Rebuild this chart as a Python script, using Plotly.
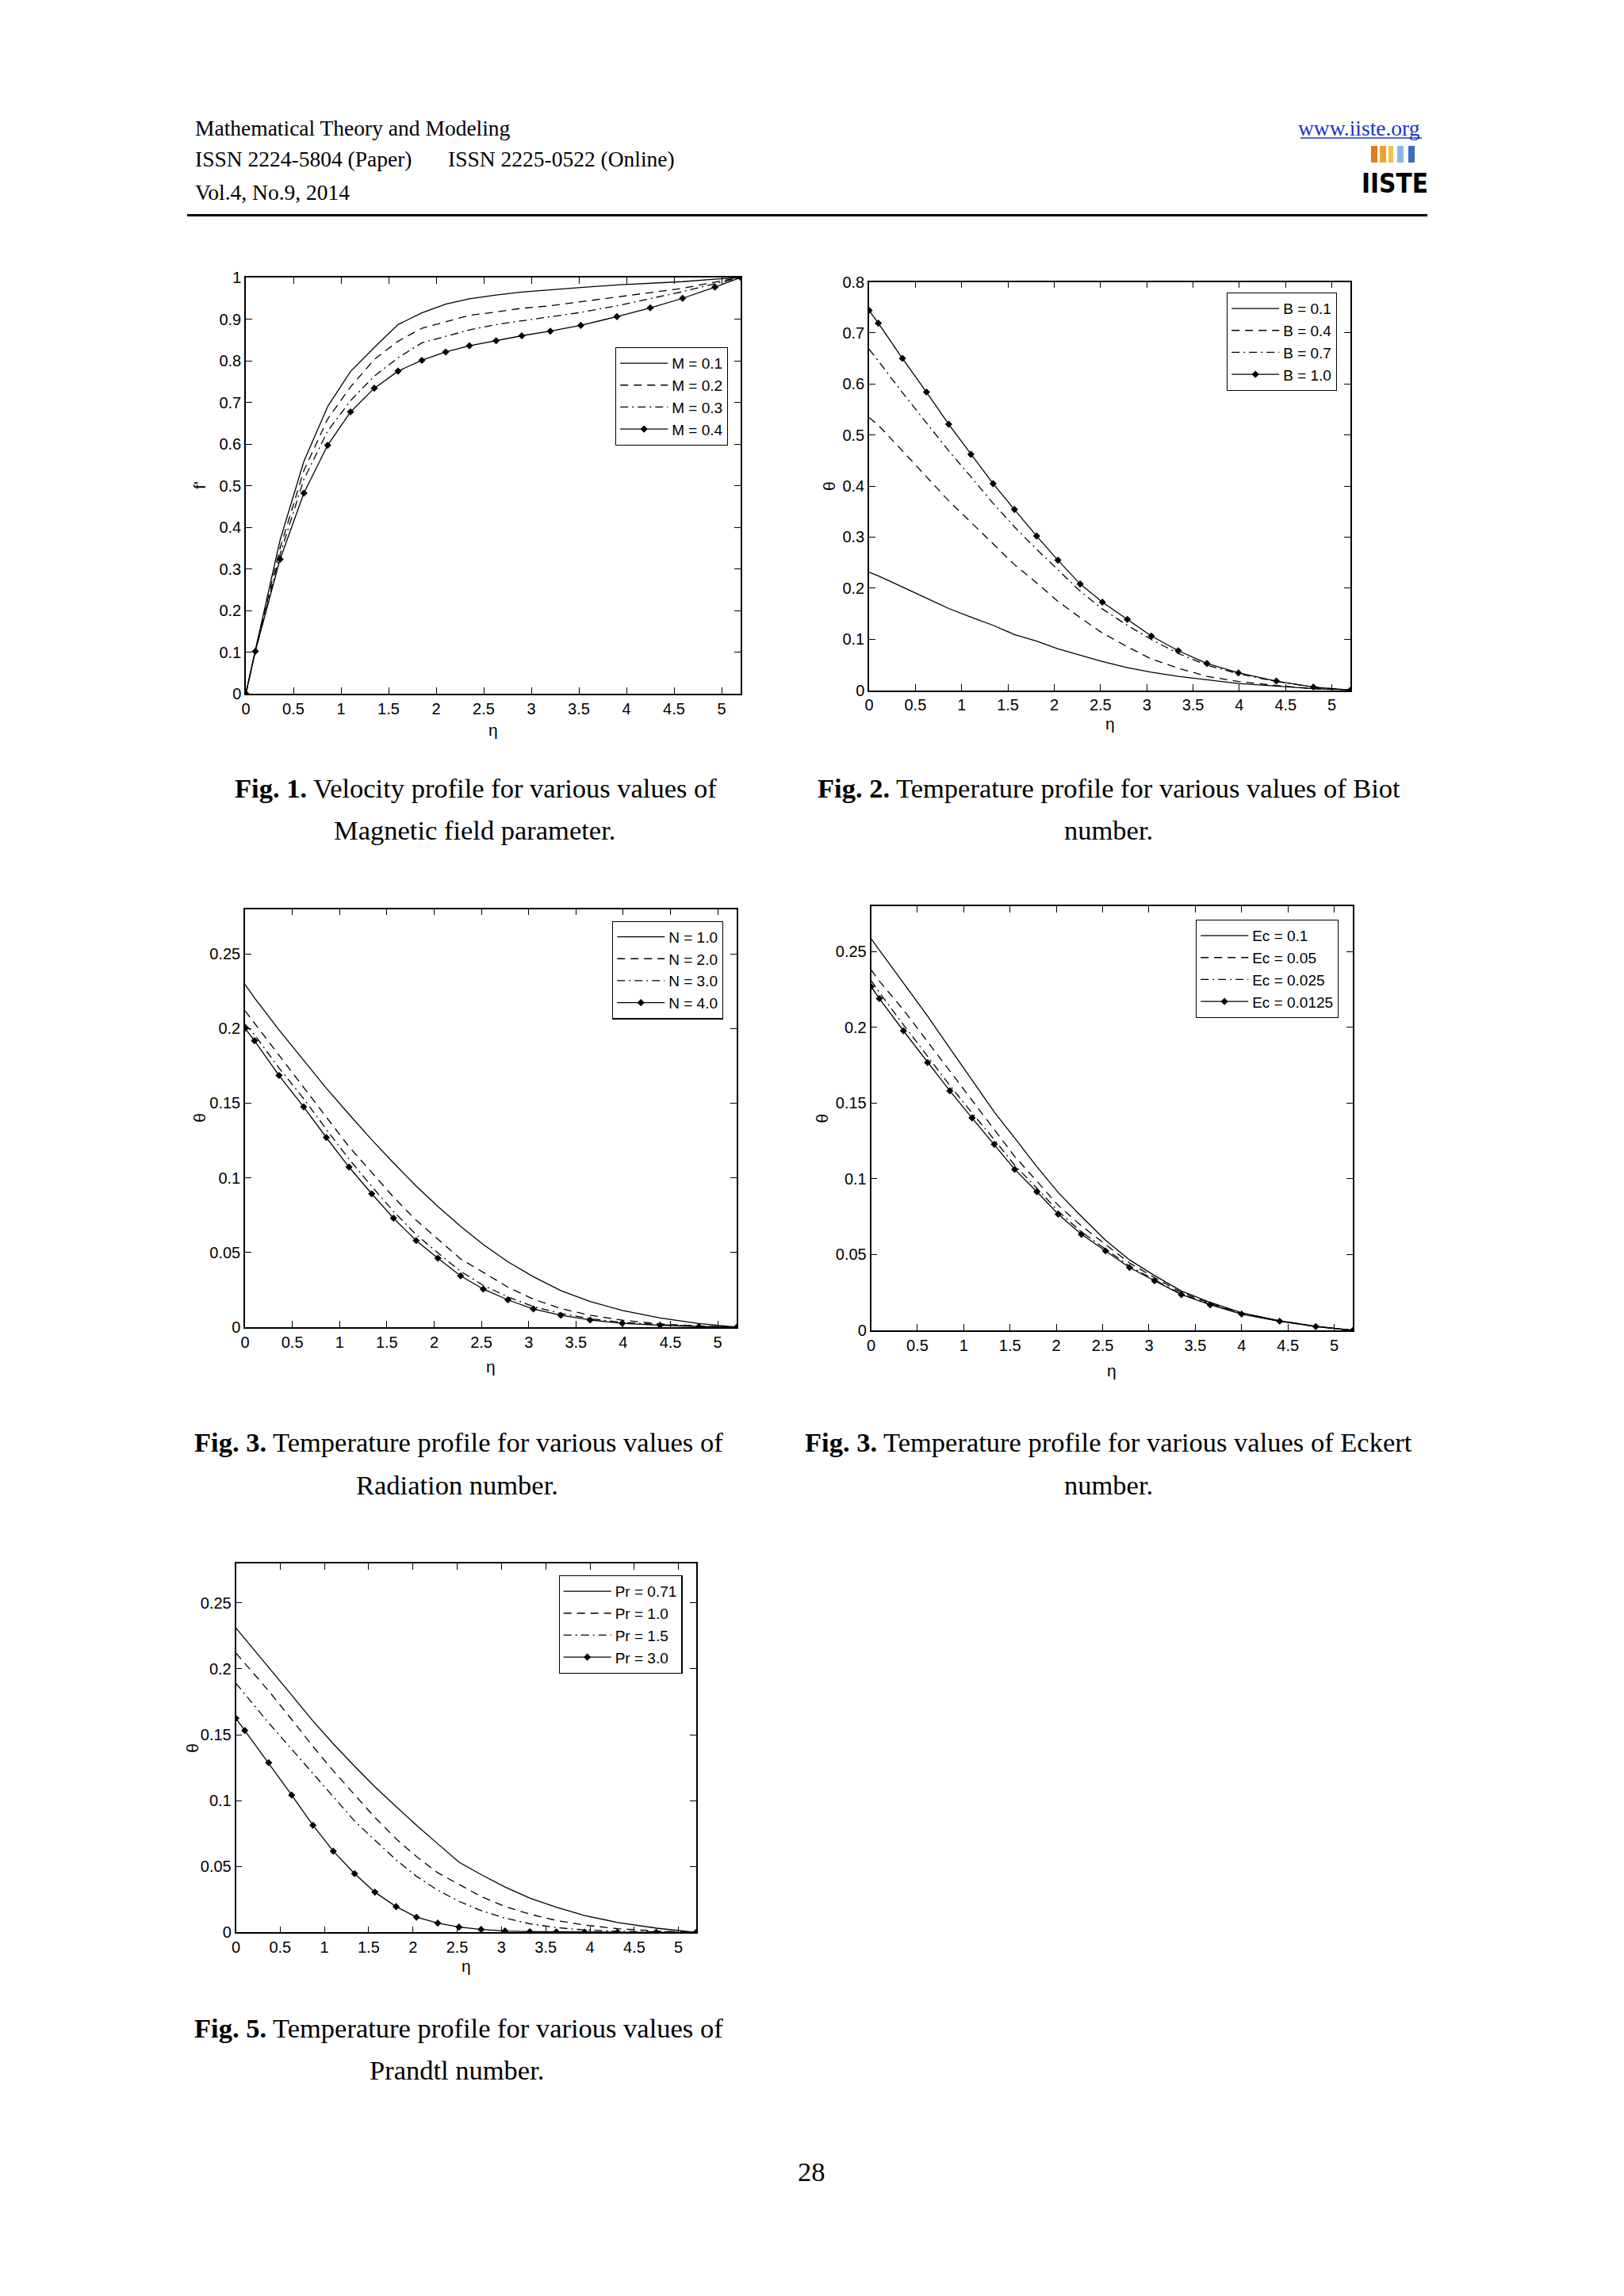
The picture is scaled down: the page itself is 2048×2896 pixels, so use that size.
import plotly.graph_objects as go

W, H = 2048, 2896

# ---------------- data ----------------
eta1 = [0, 0.1, 0.36, 0.61, 0.86, 1.1, 1.35, 1.6, 1.85, 2.1, 2.35, 2.63, 2.9, 3.2, 3.52, 3.9, 4.25, 4.59, 4.93, 5.2]
f_M01 = [0, 0.105, 0.369, 0.558, 0.69, 0.774, 0.832, 0.887, 0.915, 0.936, 0.949, 0.958, 0.965, 0.971, 0.976, 0.982, 0.986, 0.99, 0.996, 1.0]
f_M02 = [0, 0.103, 0.35, 0.536, 0.66, 0.737, 0.803, 0.847, 0.878, 0.894, 0.909, 0.917, 0.926, 0.932, 0.942, 0.953, 0.964, 0.974, 0.989, 1.0]
f_M03 = [0, 0.102, 0.335, 0.515, 0.631, 0.704, 0.763, 0.807, 0.843, 0.859, 0.874, 0.887, 0.896, 0.905, 0.916, 0.932, 0.949, 0.966, 0.985, 1.0]
f_M04 = [0, 0.102, 0.323, 0.482, 0.597, 0.677, 0.734, 0.775, 0.801, 0.821, 0.836, 0.848, 0.860, 0.871, 0.885, 0.906, 0.927, 0.950, 0.977, 1.0]

eta2 = [0, 0.1, 0.36, 0.62, 0.86, 1.1, 1.34, 1.57, 1.81, 2.04, 2.28, 2.52, 2.79, 3.05, 3.34, 3.65, 3.99, 4.4, 4.8, 5.2]
th_B01 = [0.231, 0.224, 0.202, 0.180, 0.160, 0.143, 0.127, 0.109, 0.096, 0.081, 0.068, 0.056, 0.044, 0.035, 0.027, 0.020, 0.013, 0.008, 0.003, 0]
th_B04 = [0.534, 0.519, 0.469, 0.418, 0.371, 0.329, 0.287, 0.246, 0.21, 0.174, 0.142, 0.112, 0.085, 0.061, 0.043, 0.027, 0.017, 0.009, 0.003, 0]
th_B07 = [0.668, 0.645, 0.583, 0.523, 0.469, 0.418, 0.366, 0.320, 0.276, 0.236, 0.194, 0.159, 0.127, 0.099, 0.072, 0.049, 0.032, 0.017, 0.006, 0]
th_B10 = [0.744, 0.719, 0.650, 0.584, 0.521, 0.462, 0.4045, 0.354, 0.302, 0.2546, 0.208, 0.1725, 0.1386, 0.106, 0.0773, 0.0523, 0.0339, 0.0178, 0.006, 0]

eta3 = [0, 0.1, 0.36, 0.62, 0.86, 1.1, 1.34, 1.57, 1.81, 2.04, 2.28, 2.52, 2.78, 3.05, 3.34, 3.65, 3.99, 4.39, 4.8, 5.2]
th_N1 = [0.2295, 0.2205, 0.199, 0.1785, 0.160, 0.1425, 0.1255, 0.110, 0.0945, 0.0808, 0.0675, 0.0553, 0.0438, 0.0338, 0.0245, 0.0172, 0.0112, 0.0062, 0.0025, 0]
th_N2 = [0.2118, 0.2035, 0.182, 0.1605, 0.1407, 0.1208, 0.1036, 0.0871, 0.0716, 0.0589, 0.0457, 0.0367, 0.0268, 0.0187, 0.0125, 0.008, 0.0047, 0.0022, 0.0008, 0]
th_N3 = [0.203, 0.1958, 0.1735, 0.153, 0.1325, 0.1125, 0.0943, 0.0775, 0.062, 0.0497, 0.0374, 0.028, 0.0203, 0.0138, 0.0092, 0.0057, 0.0032, 0.0017, 0.0006, 0]
th_N4 = [0.2, 0.1918, 0.1685, 0.1475, 0.127, 0.1072, 0.0893, 0.073, 0.058, 0.0462, 0.0344, 0.0255, 0.0183, 0.0122, 0.008, 0.0048, 0.0026, 0.0013, 0.0004, 0]

eta4 = [0, 0.09, 0.35, 0.61, 0.85, 1.09, 1.33, 1.55, 1.79, 2.02, 2.27, 2.53, 2.79, 3.06, 3.35, 3.66, 4.0, 4.41, 4.8, 5.2]
th_Ec1 = [0.2585, 0.251, 0.2295, 0.2075, 0.1862, 0.165, 0.1441, 0.127, 0.108, 0.091, 0.0752, 0.0595, 0.0465, 0.0362, 0.026, 0.0185, 0.0116, 0.0064, 0.0027, 0]
th_Ec2 = [0.238, 0.2305, 0.2115, 0.1905, 0.171, 0.152, 0.1323, 0.1148, 0.0985, 0.0825, 0.069, 0.0566, 0.0445, 0.0348, 0.025, 0.0178, 0.0112, 0.0062, 0.0026, 0]
th_Ec3 = [0.231, 0.223, 0.2017, 0.1806, 0.1617, 0.1435, 0.1259, 0.109, 0.0938, 0.0786, 0.065, 0.0537, 0.0424, 0.0333, 0.024, 0.0172, 0.0109, 0.0061, 0.0025, 0]
th_Ec4 = [0.2269, 0.219, 0.1977, 0.1768, 0.1581, 0.1402, 0.1228, 0.1063, 0.0915, 0.0767, 0.0634, 0.0525, 0.0415, 0.0327, 0.0236, 0.0169, 0.0107, 0.006, 0.0025, 0]

eta5 = [0, 0.1, 0.37, 0.63, 0.87, 1.1, 1.34, 1.57, 1.81, 2.04, 2.28, 2.52, 2.77, 3.04, 3.32, 3.62, 3.94, 4.31, 4.75, 5.2]
th_Pr1 = [0.231, 0.223, 0.2015, 0.180, 0.1605, 0.1431, 0.1261, 0.1105, 0.0954, 0.0813, 0.0672, 0.0533, 0.0438, 0.0344, 0.026, 0.019, 0.0128, 0.0075, 0.0032, 0]
th_Pr2 = [0.212, 0.2043, 0.1833, 0.1616, 0.1411, 0.1226, 0.1046, 0.0872, 0.0709, 0.0575, 0.0452, 0.0362, 0.0272, 0.0196, 0.0138, 0.009, 0.0055, 0.0028, 0.001, 0]
th_Pr3 = [0.189, 0.181, 0.159, 0.139, 0.1205, 0.1025, 0.0845, 0.070, 0.055, 0.0425, 0.032, 0.0235, 0.0165, 0.0108, 0.0065, 0.0036, 0.0018, 0.0008, 0.0003, 0]
th_Pr4 = [0.1625, 0.1532, 0.1288, 0.1042, 0.0813, 0.0616, 0.0446, 0.0305, 0.0195, 0.0115, 0.007, 0.004, 0.0022, 0.001, 0.0005, 0.0003, 0.0002, 0.0001, 0, 0]

x_ticks = [0, 0.5, 1, 1.5, 2, 2.5, 3, 3.5, 4, 4.5, 5]
x_ticktext = ["0", "0.5", "1", "1.5", "2", "2.5", "3", "3.5", "4", "4.5", "5"]
y1_ticks = [0, 0.1, 0.2, 0.3, 0.4, 0.5, 0.6, 0.7, 0.8, 0.9, 1]
y1_ticktext = ["0", "0.1", "0.2", "0.3", "0.4", "0.5", "0.6", "0.7", "0.8", "0.9", "1"]
y2_ticks = [0, 0.1, 0.2, 0.3, 0.4, 0.5, 0.6, 0.7, 0.8]
y2_ticktext = ["0", "0.1", "0.2", "0.3", "0.4", "0.5", "0.6", "0.7", "0.8"]
y3_ticks = [0, 0.05, 0.1, 0.15, 0.2, 0.25]
y3_ticktext = ["0", "0.05", "0.1", "0.15", "0.2", "0.25"]

panels = [
    dict(eta=eta1, series=[f_M01, f_M02, f_M03, f_M04],
         names=["M = 0.1", "M = 0.2", "M = 0.3", "M = 0.4"],
         box=(310, 934, 350, 875), yr=[0, 1], yt=(y1_ticks, y1_ticktext),
         leg=(918, 438), ylab="f'", ylabx=251.5, etay=920),
    dict(eta=eta2, series=[th_B01, th_B04, th_B07, th_B10],
         names=["B = 0.1", "B = 0.4", "B = 0.7", "B = 1.0"],
         box=(1096, 1703, 355.5, 870.5), yr=[0, 0.8], yt=(y2_ticks, y2_ticktext),
         leg=(1686, 369), ylab="θ", ylabx=1046, etay=913),
    dict(eta=eta3, series=[th_N1, th_N2, th_N3, th_N4],
         names=["N = 1.0", "N = 2.0", "N = 3.0", "N = 4.0"],
         box=(309, 929, 1146.5, 1674), yr=[0, 0.28], yt=(y3_ticks, y3_ticktext),
         leg=(912, 1161.5), ylab="θ", ylabx=251.5, etay=1723),
    dict(eta=eta4, series=[th_Ec1, th_Ec2, th_Ec3, th_Ec4],
         names=["Ec = 0.1", "Ec = 0.05", "Ec = 0.025", "Ec = 0.0125"],
         box=(1098.5, 1706, 1143, 1678), yr=[0, 0.28], yt=(y3_ticks, y3_ticktext),
         leg=(1688, 1160), ylab="θ", ylabx=1036, etay=1728),
    dict(eta=eta5, series=[th_Pr1, th_Pr2, th_Pr3, th_Pr4],
         names=["Pr = 0.71", "Pr = 1.0", "Pr = 1.5", "Pr = 3.0"],
         box=(297.5, 878, 1972, 2437.3), yr=[0, 0.28], yt=(y3_ticks, y3_ticktext),
         leg=(860.5, 1987), ylab="θ", ylabx=243, etay=2479),
]

dashes = ["solid", "10px,7px", "10px,5px,2px,5px", "solid"]


def px(x):
    return x / W


def py(y):
    return 1 - y / H


fig = go.Figure()
layout = dict(width=W, height=H, autosize=False,
              margin=dict(l=0, r=0, t=0, b=0, pad=0, autoexpand=False),
              paper_bgcolor="white", plot_bgcolor="white", showlegend=True)
annotations = []
sans = "Liberation Sans, Arial, sans-serif"
tick_font = dict(family=sans, size=20, color="black")

for i, p in enumerate(panels, start=1):
    sfx = "" if i == 1 else str(i)
    xa, ya = "x" + sfx, "y" + sfx
    legname = "legend" if i == 1 else "legend" + str(i)
    for k, (ser, nm) in enumerate(zip(p["series"], p["names"])):
        fig.add_trace(go.Scatter(
            x=p["eta"], y=ser, name=nm, xaxis=xa, yaxis=ya, legend=legname,
            legendgroup=f"g{i}_{k}",
            mode="lines+markers" if k == 3 else "lines",
            line=dict(color="black", width=1.3, dash=dashes[k]),
            marker=dict(symbol="diamond", size=7, color="black"),
            hoverinfo="skip"))
    x0, x1, y0, y1 = p["box"]
    axis_common = dict(ticks="inside", ticklen=8, tickwidth=1, tickcolor="black",
                       showline=True, linecolor="black", linewidth=1.5, mirror="ticks",
                       showgrid=False, zeroline=False, tickfont=tick_font, fixedrange=True,
                       automargin=False)
    layout["xaxis" + sfx] = dict(domain=[px(x0), px(x1)], range=[0, 5.2], anchor=ya,
                                 tickmode="array", tickvals=x_ticks, ticktext=x_ticktext,
                                 **axis_common)
    layout["yaxis" + sfx] = dict(domain=[py(y1), py(y0)], range=p["yr"], anchor=xa,
                                 tickmode="array", tickvals=p["yt"][0], ticktext=p["yt"][1],
                                 **axis_common)
    lx, ly = p["leg"]
    layout[legname] = dict(x=px(lx), y=py(ly), xanchor="right", yanchor="top",
                           xref="paper", yref="paper",
                           bgcolor="white", bordercolor="black", borderwidth=1.2,
                           font=dict(family=sans, size=19, color="black"),
                           itemwidth=60, tracegroupgap=3, traceorder="normal")
    annotations.append(dict(text="η", x=px((x0 + x1) / 2), y=py(p["etay"]), xref="paper", yref="paper",
                            showarrow=False, xanchor="center", yanchor="middle",
                            font=dict(family=sans, size=21, color="black")))
    annotations.append(dict(text=p["ylab"], x=px(p["ylabx"]), y=py((y0 + y1) / 2), xref="paper", yref="paper",
                            showarrow=False, xanchor="center", yanchor="middle", textangle=-90,
                            font=dict(family=sans, size=21, color="black")))

serif = "Liberation Serif, Times New Roman, serif"

# header
header = [
    ("Mathematical Theory and Modeling", 244, 161),
    ("ISSN 2224-5804 (Paper)", 244, 201),
    ("ISSN 2225-0522 (Online)", 563, 201),
    ("Vol.4, No.9, 2014", 244, 242),
]
for txt, hx, hy in header:
    annotations.append(dict(text=txt, x=px(hx), y=py(hy), xref="paper", yref="paper", showarrow=False,
                            xanchor="left", yanchor="middle", font=dict(family=serif, size=27.5, color="black")))
annotations.append(dict(text="www.iiste.org", x=px(1793), y=py(161), xref="paper", yref="paper", showarrow=False,
                        xanchor="right", yanchor="middle", font=dict(family=serif, size=27.5, color="#1a35c8")))
annotations.append(dict(text="<b>IISTE</b>", x=px(1759), y=py(231), xref="paper", yref="paper", showarrow=False,
                        xanchor="center", yanchor="middle",
                        font=dict(family="Liberation Sans Narrow, DejaVu Sans Condensed, Liberation Sans, sans-serif",
                                  size=33, color="black")))

# captions
captions = [
    ("<b>Fig. 1.</b> Velocity profile for various values of", 600, 994),
    ("Magnetic field parameter.", 598, 1047),
    ("<b>Fig. 2.</b> Temperature profile for various values of Biot", 1398, 994),
    ("number.", 1398, 1047),
    ("<b>Fig. 3.</b> Temperature profile for various values of", 578, 1819),
    ("Radiation number.", 576, 1873),
    ("<b>Fig. 3.</b> Temperature profile for various values of Eckert", 1398, 1819),
    ("number.", 1398, 1873),
    ("<b>Fig. 5.</b> Temperature profile for various values of", 578, 2558),
    ("Prandtl number.", 576, 2611),
    ("28", 1023, 2739),
]
for txt, cx, cy in captions:
    annotations.append(dict(text=txt, x=px(cx), y=py(cy), xref="paper", yref="paper", showarrow=False,
                            xanchor="center", yanchor="middle", font=dict(family=serif, size=34.5, color="black")))

layout["annotations"] = annotations

shapes = [
    dict(type="line", xref="paper", yref="paper", x0=px(236), x1=px(1800), y0=py(271.5), y1=py(271.5),
         line=dict(color="black", width=3)),
    dict(type="line", xref="paper", yref="paper", x0=px(1640), x1=px(1793), y0=py(174), y1=py(174),
         line=dict(color="#1a35c8", width=1.5)),
]
logo_bars = [(1729, 1737, "#e07b22"), (1740, 1748, "#f0a030"), (1751, 1757, "#f3c240"),
             (1762, 1770, "#8ab7e6"), (1776, 1784, "#3b6cc2")]
for bx0, bx1, col in logo_bars:
    shapes.append(dict(type="rect", xref="paper", yref="paper", x0=px(bx0), x1=px(bx1), y0=py(205), y1=py(184),
                       line=dict(width=0), fillcolor=col))
layout["shapes"] = shapes

fig.update_layout(**layout)
fig.write_html("out.html", config={"displayModeBar": False},
               post_script="document.body.style.margin='0px';document.body.style.padding='0px';")
